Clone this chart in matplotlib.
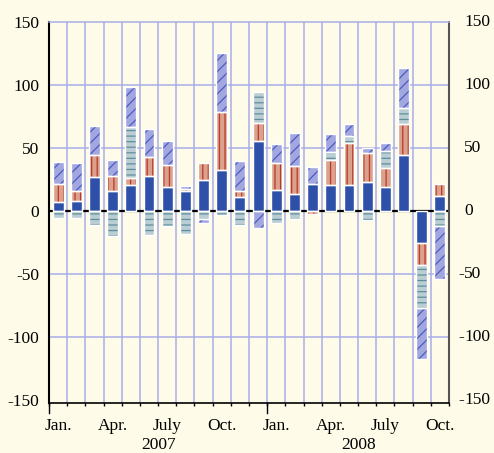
#Stacked monthly contributions, Jan 2007 - Oct 2008
import numpy as np
import matplotlib.pyplot as plt

plt.rcParams['font.family'] = 'Liberation Serif'
plt.rcParams['axes.unicode_minus'] = False
plt.rcParams['hatch.linewidth'] = 0.9

#month tick labels (one per bar) and year labels
MONTH_LABELS = ['Jan.', '', '', 'Apr.', '', '', 'July', '', '', 'Oct.', '', '',
                'Jan.', '', '', 'Apr.', '', '', 'July', '', '', 'Oct.']
YEARS = ['2007', '2008']

#series values
blue = [7, 8, 27, 16, 21, 28, 19, 16, 25, 33, 11, 56,
        17, 14, 22, 21, 21, 23, 19, 45, -25, 12]
salmon = [15, 8, 18, 12, 5, 15, 18, 2, 13, 46, 5, 14,
          21, 22, -2, 20, 33, 23, 15, 24, -18, 10]
lightblue = [-5, -5, -11, -20, 41, -19, -12, -18, -6, -3, -11, 25,
             -9, -6, 0, 6, 6, -7, 14, 13, -34, -12]
purple = [17, 22, 23, 13, 32, 22, 19, 2, -3, 47, 24, -13,
          15, 26, 13, 14, 9, 4, 6, 32, -40, -42]

Y_TICKS = [-150, -100, -50, 0, 50, 100, 150]

BG = '#fefce8'
GRID = '#a8aeea'
BAR_W = 0.6
FS = 12.5

#(values, fill colour, hatch colour, hatch pattern)
series = [(blue, '#2e50a8', '#2e50a8', None),
          (salmon, '#dba18c', '#b83a2a', '|||'),
          (lightblue, '#b9cdd2', '#5e8f9c', '---'),
          (purple, '#a3a7e0', '#4a5cc0', '///')]

fig = plt.figure(figsize=(4.94, 4.53), dpi=100, facecolor=BG)
ax = fig.add_axes([49/494, 1-402.7/453, 400/494, 380.4/453])
ax.set_facecolor(BG)

n = len(blue)
x = np.arange(n)
ax.set_xlim(-0.5, n-0.5)
ax.set_ylim(-152, 150)

#grid lines
for yv in [-100, -50, 50, 100]:
    ax.axhline(yv, color=GRID, lw=1.1, zorder=0)
for xv in np.arange(0.5, n-0.5):
    ax.axvline(xv, color=GRID, lw=1.1, zorder=0)
ax.axhline(0, color='black', lw=1.6, zorder=1)

#stack positives upward and negatives downward
pos = np.zeros(n)
neg = np.zeros(n)
for vals, fc, hc, hatch in series:
    vals = np.array(vals, float)
    bottom = np.where(vals >= 0, pos, neg)
    keep = vals != 0
    ax.bar(x[keep], vals[keep], BAR_W, bottom=bottom[keep], color=fc,
           edgecolor=hc, hatch=hatch, lw=0, zorder=2)
    ax.bar(x[keep], vals[keep], BAR_W, bottom=bottom[keep], fill=False,
           edgecolor='white', lw=1, zorder=3)
    pos += np.where(vals > 0, vals, 0)
    neg += np.where(vals < 0, vals, 0)

#spines
ax.spines['left'].set_color('black')
ax.spines['left'].set_linewidth(1.5)
ax.spines['right'].set_color('#555555')
ax.spines['right'].set_linewidth(1.5)
ax.spines['top'].set_color(GRID)
ax.spines['top'].set_linewidth(1.1)
ax.spines['bottom'].set_color('black')
ax.spines['bottom'].set_linewidth(1.2)

#left y labels
ax.set_yticks(Y_TICKS)
ax.set_yticklabels([str(v) for v in Y_TICKS])
ax.tick_params(axis='y', length=0, pad=7, labelsize=FS)

#right y labels: digits aligned, minus sign hanging to the left
for v in Y_TICKS:
    ax.text(1.038, v, str(abs(v)), transform=ax.get_yaxis_transform(),
            ha='left', va='center', fontsize=FS)
    if v < 0:
        ax.text(1.038, v, '-', transform=ax.get_yaxis_transform(),
                ha='right', va='center', fontsize=FS)

#x ticks: labels at bar centres, small ticks at month boundaries
ax.set_xticks(x)
ax.set_xticklabels(MONTH_LABELS)
ax.tick_params(axis='x', which='major', length=0, pad=11, labelsize=FS)
ax.set_xticks(np.arange(-0.5, n), minor=True)
ax.tick_params(axis='x', which='minor', length=2.5, width=1, color='black')

#longer ticks at the start of each year
for xv in [-0.5, 11.5]:
    ax.plot([xv, xv], [0, -0.027], transform=ax.get_xaxis_transform(),
            color='black', lw=1, clip_on=False)

#year labels
ax.text(5.5, -0.09, YEARS[0], transform=ax.get_xaxis_transform(),
        ha='center', va='top', fontsize=FS)
ax.text(16.5, -0.09, YEARS[1], transform=ax.get_xaxis_transform(),
        ha='center', va='top', fontsize=FS)

plt.savefig('out.png', dpi=100, facecolor=BG)
